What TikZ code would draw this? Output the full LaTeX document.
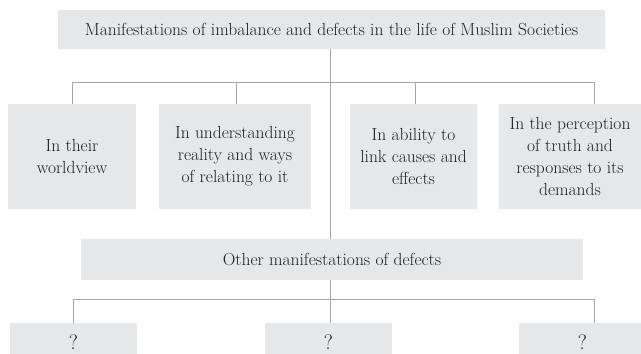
\documentclass[tikz,border=0pt]{standalone}
\usepackage{fontspec}
\definecolor{boxgray}{RGB}{230,231,232}
\definecolor{linegray}{RGB}{165,165,165}
\definecolor{textgray}{RGB}{30,30,30}
\begin{document}
\begin{tikzpicture}[x=1pt, y=-1pt, font=\fontsize{17.5}{22}\selectfont]
        \tikzset{
            box/.style={
                fill=boxgray,
                text=textgray,
                inner sep=0pt,
                align=center
            },
            qbox/.style={box, minimum width=127, minimum height=38,
                font=\fontsize{21}{22}\selectfont},
            link/.style={draw=linegray, line width=0.7pt}
        }
        \useasboundingbox (0,0) rectangle (641,354);

        % heading and first row
        \node[box, minimum width=547, minimum height=39] (top) at (331.5,29.5)
            {Manifestations of imbalance and defects in the life of Muslim Societies};
        \node[box, minimum width=128, minimum height=105] (view) at (72,156.5)
            {In their\\worldview};
        \node[box, minimum width=152, minimum height=105] (reality) at (235,156.5)
            {In understanding\\reality and ways\\of relating to it};
        \node[box, minimum width=127, minimum height=105] (causes) at (413.5,156.5)
            {In ability to\\link causes and\\effects};
        \node[box, minimum width=142, minimum height=105] (truth) at (570,156.5)
            {In the perception\\of truth and\\responses to its\\demands};

        % second level
        \node[box, minimum width=502, minimum height=41] (other) at (332,259.5)
            {Other manifestations of defects};
        \node[qbox] (qa) at (73.5,342) {?};
        \node[qbox] (qb) at (328.5,342) {?};
        \node[qbox] (qc) at (582.5,342) {?};

        \coordinate (hub) at (330,82);
        \coordinate (hubR) at (594,82);
        \coordinate (low) at (330,299);
        \coordinate (lowR) at (594,299);

        \draw[link] (top.south -| hub) -- (other.north -| hub);
        \draw[link] (view.north) |- (hubR) -- (hubR |- truth.north);
        \draw[link] (hub -| 236,0) -- (reality.north -| 236,0);
        \draw[link] (hub -| 415,0) -- (causes.north -| 415,0);

        \draw[link] (other.south -| low) -- (qb.north -| low);
        \draw[link] (qa.north) |- (lowR) -- (lowR |- qc.north);
    \end{tikzpicture}
\end{document}
